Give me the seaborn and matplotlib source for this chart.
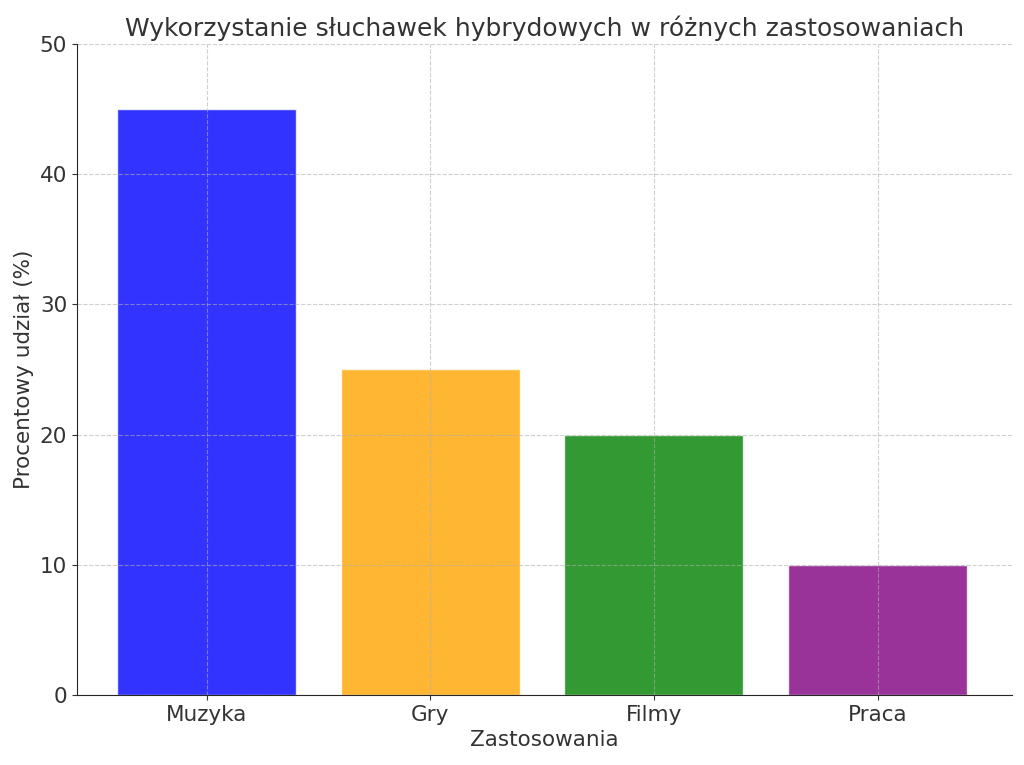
import pandas as pd
import seaborn as sns
import matplotlib.pyplot as plt

# dane
zastosowania = ['Muzyka', 'Gry', 'Filmy', 'Praca']
udzial = [45, 25, 20, 10]
kolory = ['blue', 'orange', 'green', 'purple']

df = pd.DataFrame({'Zastosowania': zastosowania, 'Udzial': udzial})

sns.set_style('ticks')
plt.rcParams['font.family'] = ['DejaVu Sans']
plt.rcParams['text.color'] = '#333333'
plt.rcParams['axes.labelcolor'] = '#333333'
plt.rcParams['xtick.color'] = '#333333'
plt.rcParams['ytick.color'] = '#333333'
plt.rcParams['axes.axisbelow'] = 'line'

fig = plt.figure(figsize=(10.24, 7.65), dpi=100)
ax = fig.add_axes([0.075, 0.0915, 0.913, 0.851])

sns.barplot(data=df, x='Zastosowania', y='Udzial', hue='Zastosowania',
            palette=kolory, alpha=0.8, width=0.8, saturation=1, legend=False, ax=ax)

ax.set_ylim(0, 50)
ax.set_xlim(-0.58, 3.6)
ax.grid(True, linestyle='--', color='#b0b0b0', alpha=0.6, linewidth=0.8)
ax.xaxis.grid(True, linestyle='--', color='#b0b0b0', alpha=0.6, linewidth=0.8)

ax.set_title('Wykorzystanie słuchawek hybrydowych w różnych zastosowaniach', fontsize=18)
ax.set_xlabel('Zastosowania', fontsize=15.5)
ax.set_ylabel('Procentowy udział (%)', fontsize=15.5)
ax.tick_params(labelsize=15.5)
sns.despine(ax=ax)

plt.savefig('out.png', dpi=100)
